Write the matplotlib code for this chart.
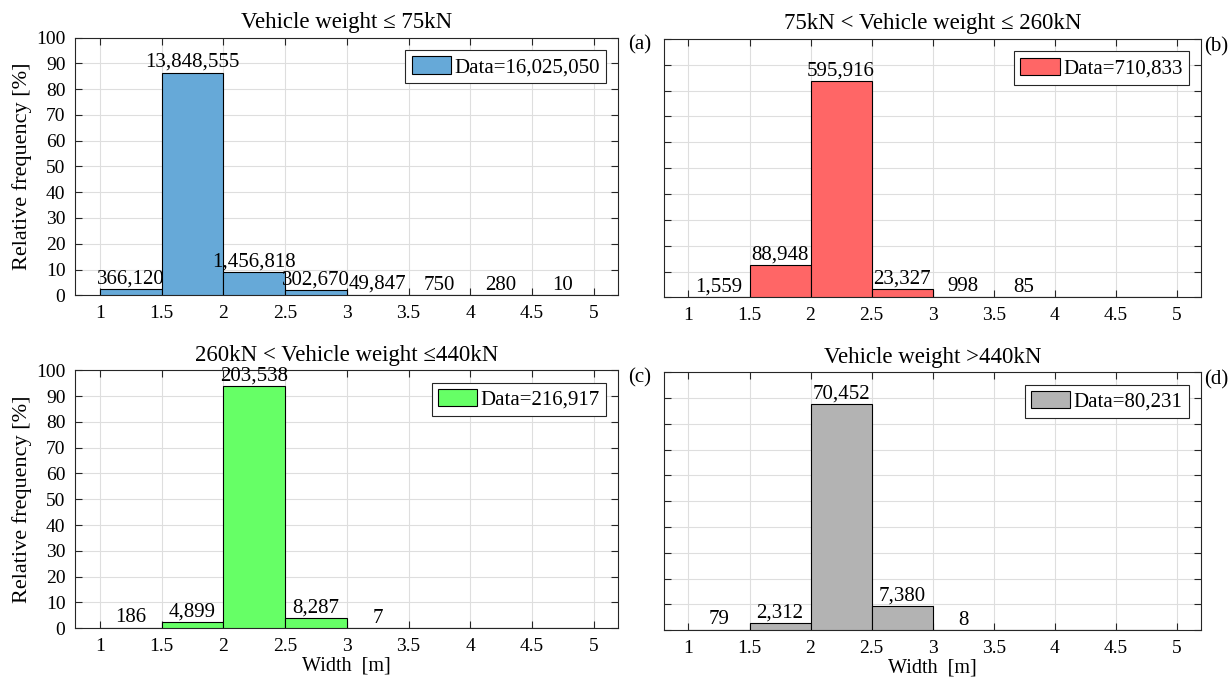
import numpy as np
import matplotlib
matplotlib.use("Agg")
import matplotlib.pyplot as plt

plt.rcParams['font.family'] = ['Liberation Serif', 'DejaVu Serif']

# Bin edges for vehicle width [m]
bin_edges = [1.0, 1.5, 2.0, 2.5, 3.0, 3.5, 4.0, 4.5, 5.0]

# Vehicle counts per width bin for each weight class
counts_a = [366120, 13848555, 1456818, 302670, 49847, 750, 280, 10]
counts_b = [1559, 88948, 595916, 23327, 998, 85, 0, 0]
counts_c = [186, 4899, 203538, 8287, 7, 0, 0, 0]
counts_d = [79, 2312, 70452, 7380, 8, 0, 0, 0]

titles = [
    "Vehicle weight \u2264 75kN",
    "75kN < Vehicle weight \u2264 260kN",
    "260kN < Vehicle weight \u2264440kN",
    "Vehicle weight >440kN",
]
panel_tags = ["(a)", "(b)", "(c)", "(d)"]
colors = ["#66a9d8", "#ff6666", "#66ff66", "#b3b3b3"]
x_ticks = [1, 1.5, 2, 2.5, 3, 3.5, 4, 4.5, 5]
x_tick_labels = ["1", "1.5", "2", "2.5", "3", "3.5", "4", "4.5", "5"]
y_ticks = list(range(0, 101, 10))

all_counts = [counts_a, counts_b, counts_c, counts_d]

fig = plt.figure(figsize=(12.32, 6.82), dpi=100)
positions = [
    [0.061, 0.567, 0.441, 0.378],
    [0.539, 0.564, 0.436, 0.379],
    [0.061, 0.079, 0.441, 0.378],
    [0.539, 0.076, 0.436, 0.378],
]

spine_col = "#262626"
fs = 14
fs_lbl = 15

for i, (counts, pos) in enumerate(zip(all_counts, positions)):
    ax = fig.add_axes(pos)
    counts = np.array(counts, dtype=float)
    total = int(counts.sum())
    rel = counts / counts.sum() * 100.0
    lefts = np.array(bin_edges[:-1])
    widths = np.diff(bin_edges)
    ax.bar(lefts, rel, width=widths, align='edge', color=colors[i],
           edgecolor='black', linewidth=0.8, zorder=3,
           label=f"Data={total:,}")
    for x0, w, r, c in zip(lefts, widths, rel, counts):
        if c > 0:
            ax.text(x0 + w / 2, r + 0.2, f"{int(c):,}", ha='center', va='bottom',
                    fontsize=fs_lbl, zorder=4)
    ax.set_xlim(0.8, 5.2)
    ax.set_ylim(0, 100)
    ax.set_xticks(x_ticks)
    ax.set_xticklabels(x_tick_labels)
    ax.set_yticks(y_ticks)
    ax.grid(True, color='#dedede', linewidth=0.8, zorder=0)
    ax.set_axisbelow(True)
    ax.tick_params(direction='in', top=True, right=True, length=5, width=0.8,
                   colors=spine_col, labelcolor='black', labelsize=fs, pad=7)
    for s in ax.spines.values():
        s.set_color(spine_col)
        s.set_linewidth(0.8)
    if i % 2 == 0:
        ax.set_ylabel("Relative frequency [%]", fontsize=16, labelpad=3)
        tag_x = 1.018
    else:
        ax.set_yticklabels([])
        tag_x = 1.005
    if i >= 2:
        ax.set_xlabel("Width  [m]", fontsize=14.5, labelpad=1)
    ax.set_title(titles[i], fontsize=16.5, pad=7)
    ax.text(tag_x, 0.97, panel_tags[i], transform=ax.transAxes, fontsize=fs_lbl,
            ha='left', va='center')
    leg = ax.legend(loc='upper right', fontsize=fs_lbl, fancybox=False, framealpha=1,
                    edgecolor=spine_col, handlelength=1.9, handleheight=0.9,
                    handletextpad=0.15, borderpad=0.3, borderaxespad=0.6)
    leg.get_frame().set_linewidth(0.8)
    leg.set_zorder(5)

fig.savefig("out.png", dpi=100)
